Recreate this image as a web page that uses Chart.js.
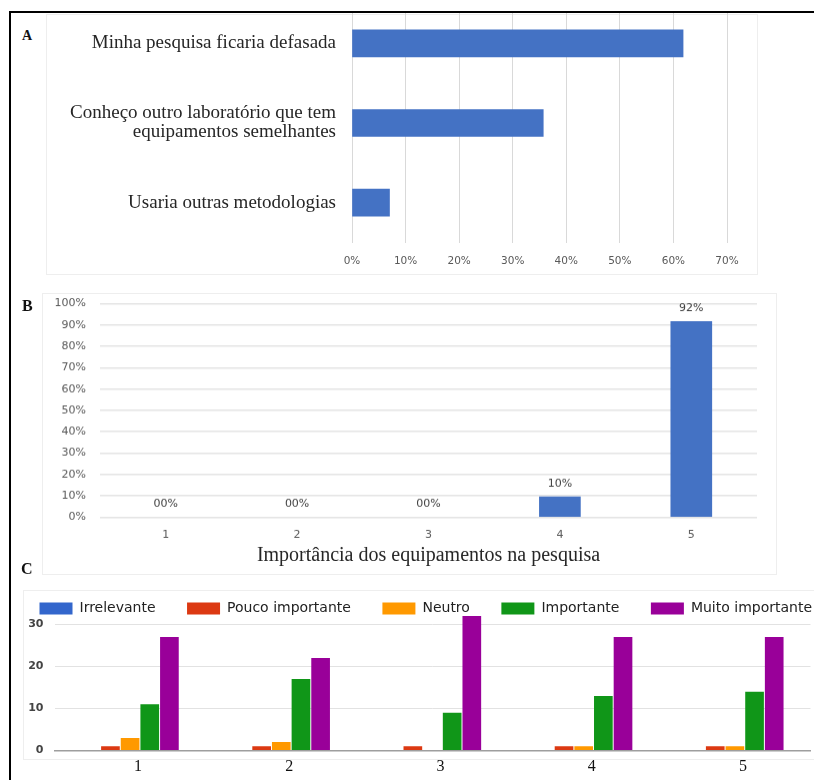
<!DOCTYPE html>
<html><head><meta charset="utf-8">
<script src="https://cdn.jsdelivr.net/npm/chart.js@4.4.1/dist/chart.umd.min.js"></script>
<style>
html,body{margin:0;padding:0;width:814px;height:780px;overflow:hidden;background:#fff;}
.abs{position:absolute;}
.box{border:1px solid #eeeeee;box-sizing:border-box;}
.tag{font-family:"Liberation Serif";font-weight:bold;color:#111;line-height:1;}
.frame{left:9px;top:11px;width:1000px;height:1000px;border-top:2px solid #000;border-left:2.5px solid #000;}
</style></head><body>
<div class="abs box" style="left:46px;top:14px;width:712px;height:261px"></div>
<div class="abs box" style="left:42px;top:293px;width:735px;height:282px"></div>
<div class="abs box" style="left:23px;top:590px;width:900px;height:170px"></div>
<div class="abs" style="left:46px;top:-22.5px;width:712px;height:297.5px"><canvas id="cA"></canvas></div>
<div class="abs" style="left:42px;top:283.4px;width:735px;height:291.6px"><canvas id="cB"></canvas></div>
<div class="abs" style="left:7.5px;top:569.5px;width:850px;height:210.5px"><canvas id="cC"></canvas></div>
<div class="abs" style="left:0;top:0;width:814px;height:13px;background:#fff"></div>
<div class="abs tag" style="left:22px;top:29px;font-size:14px">A</div>
<div class="abs tag" style="left:22px;top:298px;font-size:16px">B</div>
<div class="abs tag" style="left:21px;top:561px;font-size:16px">C</div>
<div class="abs frame"></div>
<script>
// ---- Data ----
const catA = ['Minha pesquisa ficaria defasada', ['Conheço outro laboratório que tem', 'equipamentos semelhantes'], 'Usaria outras metodologias'];
const valA = [61.8, 35.7, 7.0];

const catB = ['1', '2', '3', '4', '5'];
const valB = [0, 0, 0, 9.5, 91.7];
const titleB = 'Importância dos equipamentos na pesquisa';

const catC = ['1', '2', '3', '4', '5'];
const seriesC = ['Irrelevante', 'Pouco importante', 'Neutro', 'Importante', 'Muito importante'];
const irrelevante = [0, 0, 0, 0, 0];
const poucoImportante = [1, 1, 1, 1, 1];
const neutro = [3, 2, 0, 1, 1];
const importante = [11, 17, 9, 13, 14];
const muitoImportante = [27, 22, 32, 27, 27];

const colorsC = ['#3366cc', '#dc3912', '#ff9900', '#109618', '#990099'];
const valuesC = [irrelevante, poucoImportante, neutro, importante, muitoImportante];

const pct = v => v + '%';
const pad2 = v => String(Math.round(v)).padStart(2, '0') + '%';

// ---- Chart A ----
new Chart(document.getElementById('cA'), {
  type: 'bar',
  data: { labels: catA, datasets: [{ data: valA, backgroundColor: '#4472C4', barThickness: 27 }] },
  options: {
    indexAxis: 'y', responsive: true, maintainAspectRatio: false, animation: false,
    layout: { padding: { top: 0, right: 31, bottom: 0, left: 0 } },
    plugins: { legend: { display: false }, tooltip: { enabled: false } },
    scales: {
      x: {
        min: 0, max: 70,
        ticks: { stepSize: 10, callback: pct, color: '#595959', font: { family: 'DejaVu Sans', size: 10.5 }, padding: 12 },
        grid: { color: '#d9d9d9', drawTicks: false },
        border: { display: false },
        afterFit(s) { s.height = 33; }
      },
      y: {
        grid: { display: false, drawTicks: false }, border: { display: false },
        ticks: { color: '#262626', font: { family: 'Liberation Serif', size: 19, lineHeight: 1.0 }, padding: 16 },
        afterFit(s) { s.width = 306; }
      }
    }
  }
});

// ---- Chart B ----
const labelPlugin = {
  id: 'valLabels',
  afterDatasetsDraw(chart) {
    const ctx = chart.ctx;
    const meta = chart.getDatasetMeta(0);
    const data = chart.data.datasets[0].data;
    ctx.save();
    ctx.font = '11px "DejaVu Sans"';
    ctx.fillStyle = '#404040';
    ctx.textAlign = 'center';
    ctx.textBaseline = 'middle';
    meta.data.forEach((el, i) => ctx.fillText(pad2(data[i]), el.x, el.y - 13));
    ctx.restore();
  }
};
new Chart(document.getElementById('cB'), {
  type: 'bar',
  data: { labels: catB, datasets: [{ data: valB, backgroundColor: c => (c.raw ? '#4472C4' : 'rgba(0,0,0,0)'), barThickness: 41 }] },
  options: {
    responsive: true, maintainAspectRatio: false, animation: false,
    layout: { padding: { top: 0, right: 20, bottom: 0, left: 0 } },
    plugins: { legend: { display: false }, tooltip: { enabled: false } },
    scales: {
      x: {
        grid: { display: false, drawTicks: false }, border: { display: false },
        ticks: { color: '#595959', font: { family: 'DejaVu Sans', size: 11 }, padding: 11 },
        title: { display: true, text: titleB, color: '#262626', font: { family: 'Liberation Serif', size: 20 }, padding: { top: 0, bottom: 8 } },
        afterFit(s) { s.height = 58.3; }
      },
      y: {
        min: 0, max: 100,
        ticks: { stepSize: 10, callback: pct, color: '#595959', font: { family: 'DejaVu Sans', size: 11 }, padding: 14 },
        grid: { color: '#e4e4e4', lineWidth: 1.5, drawTicks: false },
        border: { display: false },
        afterFit(s) { s.width = 58; }
      }
    }
  },
  plugins: [labelPlugin]
});

// ---- Chart C ----
const legendHeightPlugin = {
  id: 'legendHeight',
  afterInit(chart) {
    const lg = chart.legend;
    if (!lg) return;
    const f = lg.fit;
    lg.fit = function () { f.call(this); this.height = 46.1; };
  }
};
new Chart(document.getElementById('cC'), {
  type: 'bar',
  data: {
    labels: catC,
    datasets: seriesC.map((name, i) => ({
      label: name, data: valuesC[i], backgroundColor: colorsC[i],
      barPercentage: 0.95, categoryPercentage: 0.65
    }))
  },
  options: {
    responsive: true, maintainAspectRatio: false, animation: false,
    layout: { padding: 0 },
    plugins: {
      tooltip: { enabled: false },
      legend: {
        display: true, position: 'top', align: 'start',
        labels: { boxWidth: 33, boxHeight: 12, padding: 31.5, color: '#222', font: { family: 'DejaVu Sans', size: 14 } }
      }
    },
    scales: {
      x: {
        grid: { display: false, drawTicks: false },
        border: { color: '#9e9e9e', width: 1.5 },
        ticks: { color: '#111', font: { family: 'Liberation Serif', size: 16 }, padding: 7, labelOffset: 8 },
        afterFit(s) { s.height = 30; }
      },
      y: {
        min: 0, max: 32,
        ticks: { stepSize: 10, includeBounds: false, color: '#444', font: { family: 'DejaVu Sans', size: 11, weight: 'bold' }, padding: 11 },
        grid: { color: '#e2e2e2', drawTicks: false },
        border: { display: false },
        afterFit(s) { s.width = 46.5; }
      },
      yR: {
        position: 'right', display: true,
        grid: { display: false, drawTicks: false }, border: { display: false },
        ticks: { display: false },
        afterFit(s) { s.width = 47.5; }
      }
    }
  },
  plugins: [legendHeightPlugin]
});
</script>
</body></html>
